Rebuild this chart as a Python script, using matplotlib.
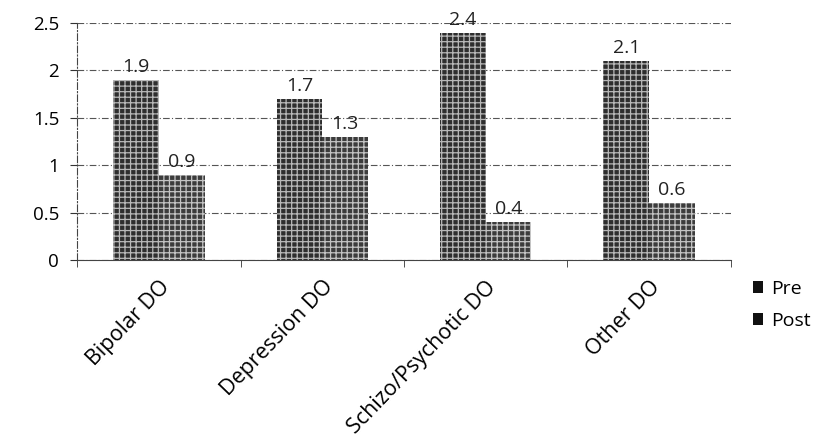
import numpy as np
import matplotlib
matplotlib.use('Agg')
from matplotlib import pyplot as plt
from matplotlib.patches import Patch

categories = ['Bipolar DO', 'Depression DO', 'Schizo/Psychotic DO', 'Other DO']
pre = [1.9, 1.7, 2.4, 2.1]
post = [0.9, 1.3, 0.4, 0.6]
yticks = [0, 0.5, 1, 1.5, 2, 2.5]
ytick_labels = ['0', '0.5', '1', '1.5', '2', '2.5']

plt.rcParams['font.family'] = ['Open Sans', 'DejaVu Sans']
plt.rcParams['hatch.linewidth'] = 0.9

fig = plt.figure(figsize=(8.4, 4.45), dpi=100)
ax = fig.add_axes([0.092, 0.416, 0.778, 0.532])

x = np.arange(len(categories))
w = 0.28
b1 = ax.bar(x - w / 2, pre, w, color='#2e2e2e', hatch='+++', edgecolor='#b8b8b8', linewidth=0, zorder=3)
b2 = ax.bar(x + w / 2, post, w, color='#3c3c3c', hatch='+++', edgecolor='#c4c4c4', linewidth=0, zorder=3)

for bars, vals in ((b1, pre), (b2, post)):
    for rect, v in zip(bars, vals):
        ax.text(rect.get_x() + rect.get_width() / 2, v + 0.04, f'{v:g}',
                ha='center', va='bottom', fontsize=14, color='#222222')

ax.set_xlim(-0.5, len(categories) - 0.5)
ax.set_ylim(0, 2.5)
ax.set_yticks(yticks)
ax.set_yticklabels(ytick_labels, fontsize=13.5)
ax.yaxis.grid(True, linestyle=(0, (6, 2, 1, 2)), color='#555555', linewidth=0.8, zorder=0)

# category labels rotated, with boundary ticks between groups
ax.set_xticks(x)
ax.set_xticklabels(categories, rotation=46, ha='right', rotation_mode='anchor', fontsize=15.5)
ax.tick_params(axis='x', length=0, pad=12)
ax.set_xticks(np.arange(len(categories) + 1) - 0.5, minor=True)
ax.tick_params(axis='x', which='minor', length=5, direction='out', color='#333333')
ax.tick_params(axis='y', length=5, color='#333333', pad=8)

for s in ('top', 'right'):
    ax.spines[s].set_visible(False)
ax.spines['left'].set_linestyle((0, (6, 2, 1, 2)))
ax.spines['left'].set_color('#444444')
ax.spines['bottom'].set_color('#444444')

handles = [Patch(facecolor='#111111', label='Pre'), Patch(facecolor='#111111', label='Post')]
fig.legend(handles=handles, loc='center left', bbox_to_anchor=(0.875, 0.315), frameon=False,
           fontsize=14, handlelength=0.55, handleheight=0.55, handletextpad=0.4, labelspacing=0.7)

fig.savefig('out.png', dpi=100)
